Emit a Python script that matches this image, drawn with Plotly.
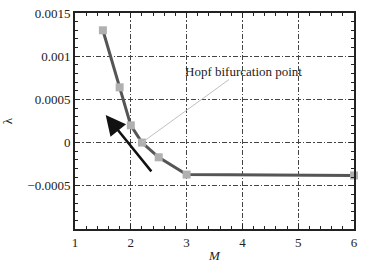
import plotly.graph_objects as go

M = [1.5, 1.8, 2.0, 2.2, 2.5, 3.0, 6.0]
lam = [0.0013, 0.00064, 0.0002, 0.0, -0.00017, -0.00037, -0.00038]
ytick_vals = [-0.0005, 0, 0.0005, 0.001, 0.0015]
ytick_text = ["\u22120.0005", "0", "0.0005", "0.001", "0.0015"]
xtick_vals = [1, 2, 3, 4, 5, 6]

font = "Liberation Serif, Times New Roman, serif"
grid_dash = "5px,2px,1.5px,2px"

fig = go.Figure()
fig.add_trace(go.Scatter(
    x=M, y=lam, mode="lines+markers",
    line=dict(color="#555555", width=3),
    marker=dict(symbol="square", size=8, color="#b0b0b0"),
    showlegend=False, cliponaxis=False,
))

# leader line for the Hopf label
fig.add_shape(type="line", xref="x", yref="y", x0=2.2, y0=0, x1=3.76, y1=0.00073,
              line=dict(color="#c0c0c0", width=1), layer="above")
fig.add_annotation(
    x=2.93, y=0.00082, xref="x", yref="y",
    text="Hopf bifurcation point", showarrow=False, xanchor="left", yanchor="middle",
    font=dict(family=font, size=13, color="#222"),
)
fig.add_annotation(
    x=1.55, y=0.00032, xref="x", yref="y",
    ax=2.39, ay=-0.00035, axref="x", ayref="y",
    text="", showarrow=True,
    arrowhead=2, arrowsize=1.6, arrowwidth=2.5, arrowcolor="#111",
)

fig.update_layout(
    width=366, height=267,
    margin=dict(l=75, r=12, t=13, b=38, autoexpand=False),
    paper_bgcolor="white", plot_bgcolor="white",
    font=dict(family=font, size=13, color="#222"),
    xaxis=dict(
        range=[1, 6], tickvals=xtick_vals, ticks="inside", ticklen=5,
        tickcolor="#222", linecolor="#222", linewidth=2, mirror="ticks",
        showgrid=True, gridcolor="#444", gridwidth=1, griddash=grid_dash,
        zeroline=False, automargin=False,
        minor=dict(dtick=0.2, ticks="inside", ticklen=3, tickcolor="#222", showgrid=False),
        title=dict(text="<i>M</i>", font=dict(family=font, size=13), standoff=2),
    ),
    yaxis=dict(
        range=[-0.001, 0.0015], tickvals=ytick_vals, ticktext=ytick_text,
        ticks="inside", ticklen=5,
        tickcolor="#222", linecolor="#222", linewidth=2, mirror="ticks",
        showgrid=True, gridcolor="#444", gridwidth=1, griddash=grid_dash,
        zeroline=False, automargin=False,
        minor=dict(dtick=0.0001, ticks="inside", ticklen=3, tickcolor="#222", showgrid=False),
        title=dict(text="\u03bb", font=dict(family=font, size=13), standoff=24),
    ),
)

fig.write_html("out.html", config={"displayModeBar": False},
               post_script="document.body.style.margin='0';")
